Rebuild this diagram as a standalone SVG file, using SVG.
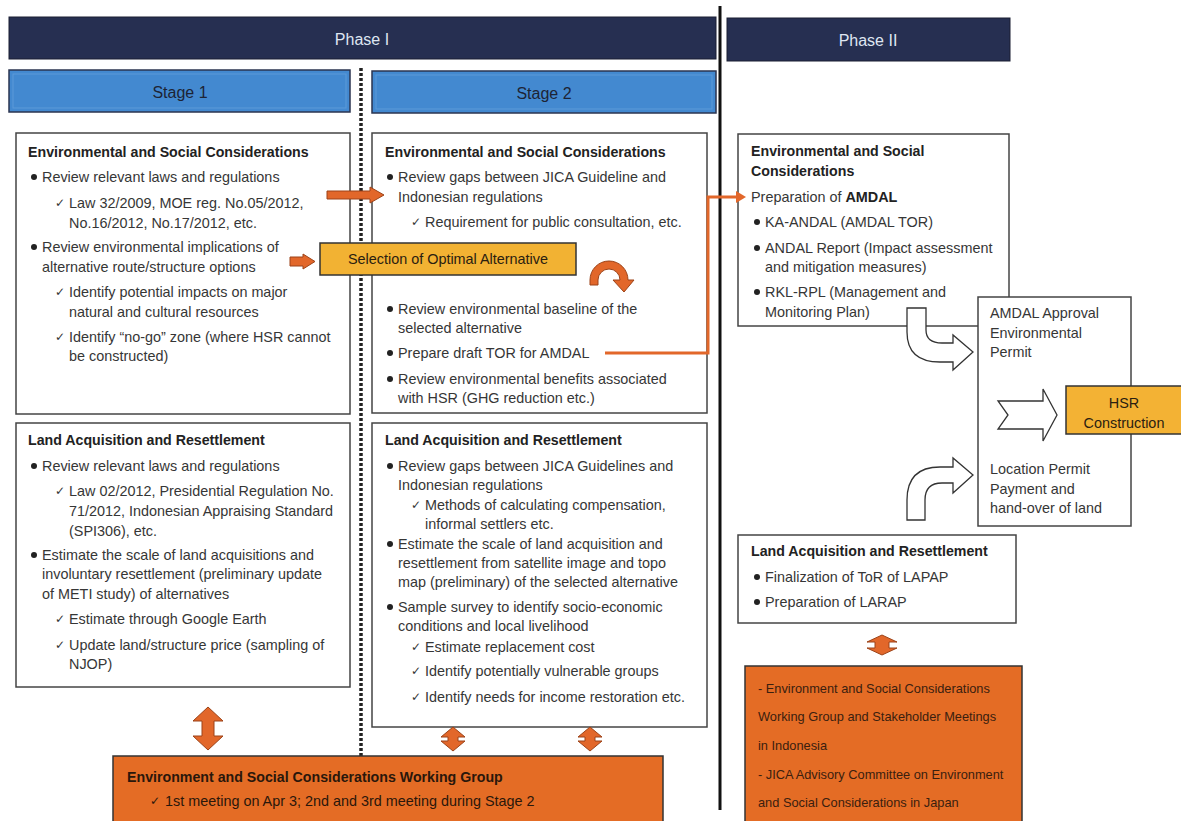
<svg xmlns="http://www.w3.org/2000/svg" width="1181" height="821" viewBox="0 0 1181 821">
<style>
.t{font-family:"Liberation Sans",Arial,sans-serif;font-size:14.4px;fill:#363636}
.b{font-weight:bold;fill:#222;font-size:14.2px}
.ck{font-family:"DejaVu Sans",sans-serif;font-size:12px;fill:#333}
.box{fill:#fff;stroke:#444;stroke-width:1.5}
.bul{fill:#222}
.oa{fill:#e2672a;stroke:#9c4318;stroke-width:1}
.wa{fill:#fff;stroke:#333;stroke-width:1.3}
.phase{fill:#262f51;stroke:#1a1f33;stroke-width:1}
.ph{font-family:"Liberation Sans",Arial,sans-serif;font-size:16px;fill:#dfe6f1;text-anchor:middle}
.stage{fill:#4389d0;stroke:#2b3550;stroke-width:1.5}
.st{font-family:"Liberation Sans",Arial,sans-serif;font-size:16px;fill:#1d2435;text-anchor:middle}
.ot{font-family:"Liberation Sans",Arial,sans-serif;font-size:12.8px;fill:#3a200f}
</style>
<rect width="1181" height="821" fill="#fff"/>

<g id="phase1"><rect class="phase" x="9" y="17" width="707" height="42"/><text class="ph" x="362" y="45">Phase I</text></g>
<g id="phase2"><rect class="phase" x="727" y="18" width="283" height="43"/><text class="ph" x="868" y="46">Phase II</text></g>
<g id="stage1"><rect class="stage" x="9" y="70" width="341" height="42"/><rect x="13" y="74" width="333" height="34" fill="none" stroke="#5d9ad8" stroke-width="1"/><text class="st" x="180" y="98">Stage 1</text></g>
<g id="stage2"><rect class="stage" x="372" y="71" width="344" height="42"/><rect x="376" y="75" width="336" height="34" fill="none" stroke="#5d9ad8" stroke-width="1"/><text class="st" x="544" y="99">Stage 2</text></g>

<g id="dividers">
<line x1="361" y1="68" x2="361" y2="762" stroke="#222" stroke-width="3.5" stroke-dasharray="3 2"/>
<line x1="720" y1="6" x2="720" y2="810" stroke="#111" stroke-width="3"/>
</g>

<g id="s1-env">
<rect class="box" x="16" y="133" width="334" height="281"/>
<text class="t b" x="28" y="157">Environmental and Social Considerations</text>
<circle class="bul" cx="34" cy="177" r="3"/><text class="t" x="42" y="182">Review relevant laws and regulations</text>
<text class="ck" x="55" y="207">✓</text><text class="t" x="69" y="208">Law 32/2009, MOE reg. No.05/2012,</text>
<text class="t" x="69" y="228">No.16/2012, No.17/2012, etc.</text>
<circle class="bul" cx="34" cy="247" r="3"/><text class="t" x="42" y="252">Review environmental implications of</text>
<text class="t" x="42" y="272">alternative route/structure options</text>
<text class="ck" x="55" y="296">✓</text><text class="t" x="69" y="297">Identify potential impacts on major</text>
<text class="t" x="69" y="317">natural and cultural resources</text>
<text class="ck" x="55" y="341">✓</text><text class="t" x="69" y="342">Identify “no-go” zone (where HSR cannot</text>
<text class="t" x="69" y="361">be constructed)</text>
</g>

<g id="s2-env">
<rect class="box" x="372" y="133" width="335" height="280"/>
<text class="t b" x="385" y="157">Environmental and Social Considerations</text>
<circle class="bul" cx="390" cy="177" r="3"/><text class="t" x="398" y="182">Review gaps between JICA Guideline and</text>
<text class="t" x="398" y="202">Indonesian regulations</text>
<text class="ck" x="411" y="226">✓</text><text class="t" x="425" y="227">Requirement for public consultation, etc.</text>
<circle class="bul" cx="390" cy="309" r="3"/><text class="t" x="398" y="314">Review environmental baseline of the</text>
<text class="t" x="398" y="333">selected alternative</text>
<circle class="bul" cx="390" cy="353" r="3"/><text class="t" x="398" y="358">Prepare draft TOR for AMDAL</text>
<circle class="bul" cx="390" cy="379" r="3"/><text class="t" x="398" y="384">Review environmental benefits associated</text>
<text class="t" x="398" y="403">with HSR (GHG reduction etc.)</text>
</g>

<g id="selection">
<rect x="320" y="243" width="256" height="32" fill="#f2b233" stroke="#333" stroke-width="1.5"/>
<text class="t" x="448" y="264" text-anchor="middle" style="fill:#2a2010">Selection of Optimal Alternative</text>
</g>

<g id="s1-land">
<rect class="box" x="16" y="423" width="334" height="264"/>
<text class="t b" x="28" y="445">Land Acquisition and Resettlement</text>
<circle class="bul" cx="34" cy="466" r="3"/><text class="t" x="42" y="471">Review relevant laws and regulations</text>
<text class="ck" x="55" y="495">✓</text><text class="t" x="69" y="496">Law 02/2012, Presidential Regulation No.</text>
<text class="t" x="69" y="516">71/2012, Indonesian Appraising Standard</text>
<text class="t" x="69" y="536">(SPI306), etc.</text>
<circle class="bul" cx="34" cy="555" r="3"/><text class="t" x="42" y="560">Estimate the scale of land acquisitions and</text>
<text class="t" x="42" y="579">involuntary resettlement (preliminary update</text>
<text class="t" x="42" y="599">of METI study) of alternatives</text>
<text class="ck" x="55" y="623">✓</text><text class="t" x="69" y="624">Estimate through Google Earth</text>
<text class="ck" x="55" y="649">✓</text><text class="t" x="69" y="650">Update land/structure price (sampling of</text>
<text class="t" x="69" y="669">NJOP)</text>
</g>

<g id="s2-land">
<rect class="box" x="372" y="423" width="335" height="304"/>
<text class="t b" x="385" y="445">Land Acquisition and Resettlement</text>
<circle class="bul" cx="390" cy="466" r="3"/><text class="t" x="398" y="471">Review gaps between JICA Guidelines and</text>
<text class="t" x="398" y="490">Indonesian regulations</text>
<text class="ck" x="411" y="509">✓</text><text class="t" x="425" y="510">Methods of calculating compensation,</text>
<text class="t" x="425" y="529">informal settlers etc.</text>
<circle class="bul" cx="390" cy="544" r="3"/><text class="t" x="398" y="549">Estimate the scale of land acquisition and</text>
<text class="t" x="398" y="568">resettlement from satellite image and topo</text>
<text class="t" x="398" y="587">map (preliminary) of the selected alternative</text>
<circle class="bul" cx="390" cy="607" r="3"/><text class="t" x="398" y="612">Sample survey to identify socio-economic</text>
<text class="t" x="398" y="631">conditions and local livelihood</text>
<text class="ck" x="411" y="651">✓</text><text class="t" x="425" y="652">Estimate replacement cost</text>
<text class="ck" x="411" y="675">✓</text><text class="t" x="425" y="676">Identify potentially vulnerable groups</text>
<text class="ck" x="411" y="701">✓</text><text class="t" x="425" y="702">Identify needs for income restoration etc.</text>
</g>

<g id="p2-env">
<rect class="box" x="738" y="134" width="271" height="192"/>
<text class="t b" x="751" y="156">Environmental and Social</text>
<text class="t b" x="751" y="176">Considerations</text>
<text class="t" x="751" y="202">Preparation of <tspan style="font-weight:bold;fill:#222">AMDAL</tspan></text>
<circle class="bul" cx="757" cy="222" r="3"/><text class="t" x="765" y="227">KA-ANDAL (AMDAL TOR)</text>
<circle class="bul" cx="757" cy="248" r="3"/><text class="t" x="765" y="253">ANDAL Report (Impact assessment</text>
<text class="t" x="765" y="272">and mitigation measures)</text>
<circle class="bul" cx="757" cy="292" r="3"/><text class="t" x="765" y="297">RKL-RPL (Management and</text>
<text class="t" x="765" y="317">Monitoring Plan)</text>
</g>

<g id="permits">
<rect class="box" x="978" y="297" width="153" height="229"/>
<text class="t" x="990" y="318">AMDAL Approval</text>
<text class="t" x="990" y="338">Environmental</text>
<text class="t" x="990" y="357">Permit</text>
<text class="t" x="990" y="474">Location Permit</text>
<text class="t" x="990" y="494">Payment and</text>
<text class="t" x="990" y="513">hand-over of land</text>
</g>

<g id="hsr">
<rect x="1066" y="386" width="118" height="48" fill="#f3b234" stroke="#333" stroke-width="1.5"/>
<text class="t" x="1124" y="408" text-anchor="middle" style="fill:#2a2010">HSR</text>
<text class="t" x="1124" y="428" text-anchor="middle" style="fill:#2a2010">Construction</text>
</g>

<g id="p2-land">
<rect class="box" x="738" y="535" width="278" height="88"/>
<text class="t b" x="751" y="556">Land Acquisition and Resettlement</text>
<circle class="bul" cx="757" cy="577" r="3"/><text class="t" x="765" y="582">Finalization of ToR of LAPAP</text>
<circle class="bul" cx="757" cy="602" r="3"/><text class="t" x="765" y="607">Preparation of LARAP</text>
</g>

<g id="wg-right">
<rect x="745" y="666" width="277" height="160" fill="#e46c25" stroke="#333" stroke-width="1.5"/>
<text class="ot" x="758" y="693">- Environment and Social Considerations</text>
<text class="ot" x="758" y="721">Working Group and Stakeholder Meetings</text>
<text class="ot" x="758" y="750">in Indonesia</text>
<text class="ot" x="758" y="779">- JICA Advisory Committee on Environment</text>
<text class="ot" x="758" y="807">and Social Considerations in Japan</text>
</g>

<g id="wg-bottom">
<rect x="113" y="756" width="550" height="70" fill="#e46c25" stroke="#333" stroke-width="1.5"/>
<text class="t b" x="127" y="782" style="fill:#2a170b">Environment and Social Considerations Working Group</text>
<text class="ck" x="150" y="805" style="fill:#2a170b">✓</text><text class="t" x="165" y="806" style="fill:#2a170b">1st meeting on Apr 3; 2nd and 3rd meeting during Stage 2</text>
</g>

<g id="connectors">
<polygon class="oa" points="327,191 370,191 370,187 384,195 370,203 370,199 327,199"/>
<polygon class="oa" points="290,257 303,257 303,254 315,261.5 303,269 303,266 290,266"/>
<path class="oa" d="M590 285 L590 280 A19 19 0 0 1 628 280 L634 280 L624 292 L613 280 L620 280 A11 11 0 0 0 598 280 L598 285 Z"/>
<polyline points="605,353 708,353 708,197 738,197" fill="none" stroke="#e2672a" stroke-width="3"/>
<polygon points="736,191 746,197 736,203" fill="#e2672a"/>
<path class="wa" d="M907 308 L926 308 L926 330 Q926 343 942 343 L953 343 L953 335 L973 352 L953 370 L953 362 L940 362 Q907 362 907 332 Z"/>
<polygon class="wa" points="998,401 1043,401 1043,389 1057,415 1043,441 1043,429 998,429 1008,415"/>
<path class="wa" d="M907 520 L907 500 Q907 467 940 467 L953 467 L953 458 L973 475 L953 493 L953 483 L942 483 Q925 483 925 500 L925 520 Z"/>
<polygon class="oa" points="208,707 223,721 214,721 214,736 223,736 208,750 193,736 202,736 202,721 193,721"/>
<polygon class="oa" points="453,727 465,737 458,737 458,741 465,741 453,751 441,741 448,741 448,737 441,737"/>
<polygon class="oa" points="590,727 602,737 595,737 595,741 602,741 590,751 578,741 585,741 585,737 578,737"/>
<polygon class="oa" points="882,635 897,642 889,642 889,648 897,648 882,655 867,648 875,648 875,642 867,642"/>
</g>
</svg>
